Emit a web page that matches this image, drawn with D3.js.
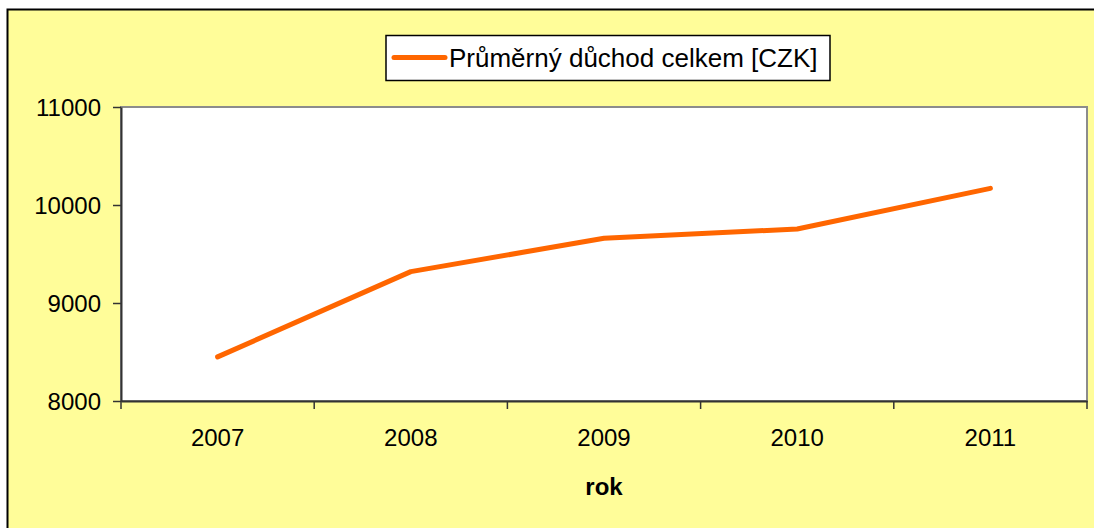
<!DOCTYPE html>
<html>
<head>
<meta charset="utf-8">
<script src="https://cdn.jsdelivr.net/npm/d3@7"></script>
<style>
  body { margin: 0; background: #fff; }
  svg { display: block; font-family: "Liberation Sans", Arial, sans-serif; }
</style>
</head>
<body>
<svg id="chart"></svg>
<script>
// data
const years = ["2007", "2008", "2009", "2010", "2011"];
const pension = [8450, 9320, 9660, 9755, 10170];
const yTicks = [8000, 9000, 10000, 11000];
const seriesName = "Průměrný důchod celkem [CZK]";
const xTitle = "rok";

const width = 1094;
const height = 528;
const plot = { left: 121, top: 107, right: 1087, bottom: 401 };

const svg = d3.select('#chart')
    .attr('width', width)
    .attr('height', height);

// yellow chart area with black frame (runs off the right/bottom edge)
svg.append('rect')
    .attr('x', 7.5).attr('y', 9.5)
    .attr('width', width + 20).attr('height', height + 20)
    .attr('fill', '#fffd99')
    .attr('stroke', '#000')
    .attr('stroke-width', 2);

const x = d3.scaleBand()
    .domain(years)
    .range([plot.left, plot.right]);

const y = d3.scaleLinear()
    .domain([8000, 11000])
    .range([plot.bottom, plot.top]);

// white plot area
svg.append('rect')
    .attr('x', plot.left).attr('y', plot.top)
    .attr('width', plot.right - plot.left)
    .attr('height', plot.bottom - plot.top)
    .attr('fill', '#fff')
    .attr('stroke', '#8c8c8c')
    .attr('stroke-width', 2);

// Y axis
const yAxis = svg.append('g')
    .attr('transform', 'translate(' + plot.left + ',0)')
    .call(d3.axisLeft(y).tickValues(yTicks).tickFormat(d3.format('d'))
        .tickSize(8).tickSizeOuter(0).tickPadding(12));
yAxis.select('.domain').attr('stroke', '#333').attr('stroke-width', 2);
yAxis.selectAll('.tick line').attr('stroke', '#333').attr('stroke-width', 1.5);
yAxis.selectAll('.tick text')
    .attr('font-size', 24)
    .attr('fill', '#000')
    .attr('dy', '0.34em');

// X axis: labels centred in each category, ticks on category borders
const xAxis = svg.append('g')
    .attr('transform', 'translate(0,' + plot.bottom + ')')
    .call(d3.axisBottom(x).tickSize(0).tickPadding(28));
xAxis.select('.domain').attr('stroke', '#333').attr('stroke-width', 2);
xAxis.selectAll('.tick text')
    .attr('font-size', 24)
    .attr('fill', '#000');

const borders = years.map(function (d) { return x(d); }).concat([x.range()[1]]);
xAxis.selectAll('.border-tick')
    .data(borders)
    .enter().append('line')
    .attr('class', 'border-tick')
    .attr('x1', function (d) { return d; })
    .attr('x2', function (d) { return d; })
    .attr('y1', 0).attr('y2', 8)
    .attr('stroke', '#333')
    .attr('stroke-width', 1.5);

svg.append('text')
    .attr('x', (plot.left + plot.right) / 2)
    .attr('y', 495)
    .attr('text-anchor', 'middle')
    .attr('font-size', 24)
    .attr('font-weight', 'bold')
    .text(xTitle);

// the line
const points = years.map(function (d, i) { return { year: d, value: pension[i] }; });
svg.append('path')
    .datum(points)
    .attr('fill', 'none')
    .attr('stroke', '#ff6600')
    .attr('stroke-width', 5)
    .attr('stroke-linecap', 'round')
    .attr('stroke-linejoin', 'round')
    .attr('d', d3.line()
        .x(function (d) { return x(d.year) + x.bandwidth() / 2; })
        .y(function (d) { return y(d.value); })
    );

// legend
const legend = svg.append('g');
legend.append('rect')
    .attr('x', 386).attr('y', 35.5)
    .attr('width', 444).attr('height', 45)
    .attr('fill', '#fff')
    .attr('stroke', '#000')
    .attr('stroke-width', 1.5);
legend.append('line')
    .attr('x1', 394).attr('x2', 445)
    .attr('y1', 57.5).attr('y2', 57.5)
    .attr('stroke', '#ff6600')
    .attr('stroke-width', 5)
    .attr('stroke-linecap', 'round');
legend.append('text')
    .attr('x', 449).attr('y', 67)
    .attr('font-size', 26)
    .text(seriesName);
</script>
</body>
</html>
